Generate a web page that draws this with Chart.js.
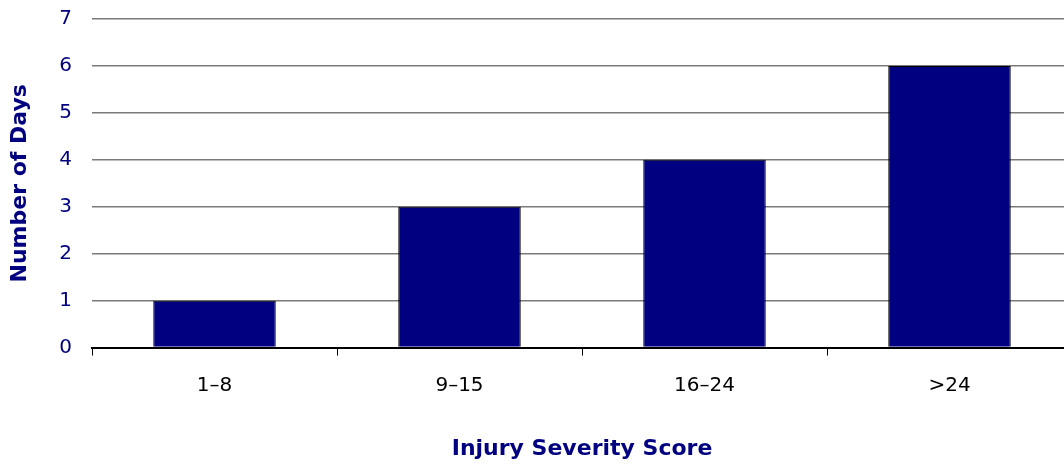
<!DOCTYPE html>
<html lang="en">
<head>
    <meta charset="UTF-8">
    <title>Number of Days by Injury Severity Score</title>
    <style>
        html, body { margin: 0; padding: 0; background: #fff; overflow: hidden; }
        .chart-box { width: 1072px; height: 467px; position: relative; }
    </style>
</head>
<body>
    <div class="chart-box">
        <canvas id="myChart"></canvas>
    </div>
    <script src="https://cdn.jsdelivr.net/npm/chart.js@4/dist/chart.umd.min.js"></script>
    <script>
        var categories = ["1\u20138", "9\u201315", "16\u201324", ">24"];
        var days = [1, 3, 4, 6];
        var yTicks = [0, 1, 2, 3, 4, 5, 6, 7];

        var navy = "#000080";
        var fontFamily = "'DejaVu Sans', Verdana, sans-serif";

        var ctx = document.getElementById("myChart").getContext("2d");
        var barChart = new Chart(ctx, {
            type: "bar",
            data: {
                labels: categories,
                datasets: [{
                    data: days,
                    backgroundColor: navy,
                    borderColor: "#000000",
                    borderWidth: 1,
                    categoryPercentage: 0.5,
                    barPercentage: 1.0
                }]
            },
            options: {
                responsive: true,
                maintainAspectRatio: false,
                animation: false,
                layout: { padding: { top: 19, right: 0, bottom: 0, left: 0 } },
                plugins: {
                    legend: { display: false },
                    tooltip: { enabled: false }
                },
                scales: {
                    x: {
                        offset: true,
                        grid: {
                            offset: true,
                            drawOnChartArea: false,
                            color: "#000000",
                            lineWidth: 1,
                            tickLength: 8
                        },
                        border: { display: true, color: "#000000", width: 2 },
                        ticks: {
                            color: "#000000",
                            padding: 18,
                            font: { family: fontFamily, size: 20 }
                        },
                        title: {
                            display: true,
                            text: "Injury Severity Score",
                            color: navy,
                            padding: { top: 20, bottom: 5 },
                            font: { family: fontFamily, size: 22, weight: "bold" }
                        }
                    },
                    y: {
                        min: 0,
                        max: 7,
                        afterBuildTicks: function (scale) {
                            scale.ticks = yTicks.map(function (v) { return { value: v }; });
                        },
                        afterFit: function (scale) {
                            scale.width = 92;
                            scale.paddingTop = 0;
                            scale.paddingBottom = 0;
                        },
                        grid: {
                            color: "#7a7a7a",
                            lineWidth: 1.5,
                            drawTicks: false
                        },
                        border: { display: false },
                        ticks: {
                            color: navy,
                            padding: 20,
                            font: { family: fontFamily, size: 20 }
                        },
                        title: {
                            display: true,
                            text: "Number of Days",
                            color: navy,
                            padding: { top: 7, bottom: 0 },
                            font: { family: fontFamily, size: 22, weight: "bold" }
                        }
                    }
                }
            }
        });
    </script>
</body>
</html>
